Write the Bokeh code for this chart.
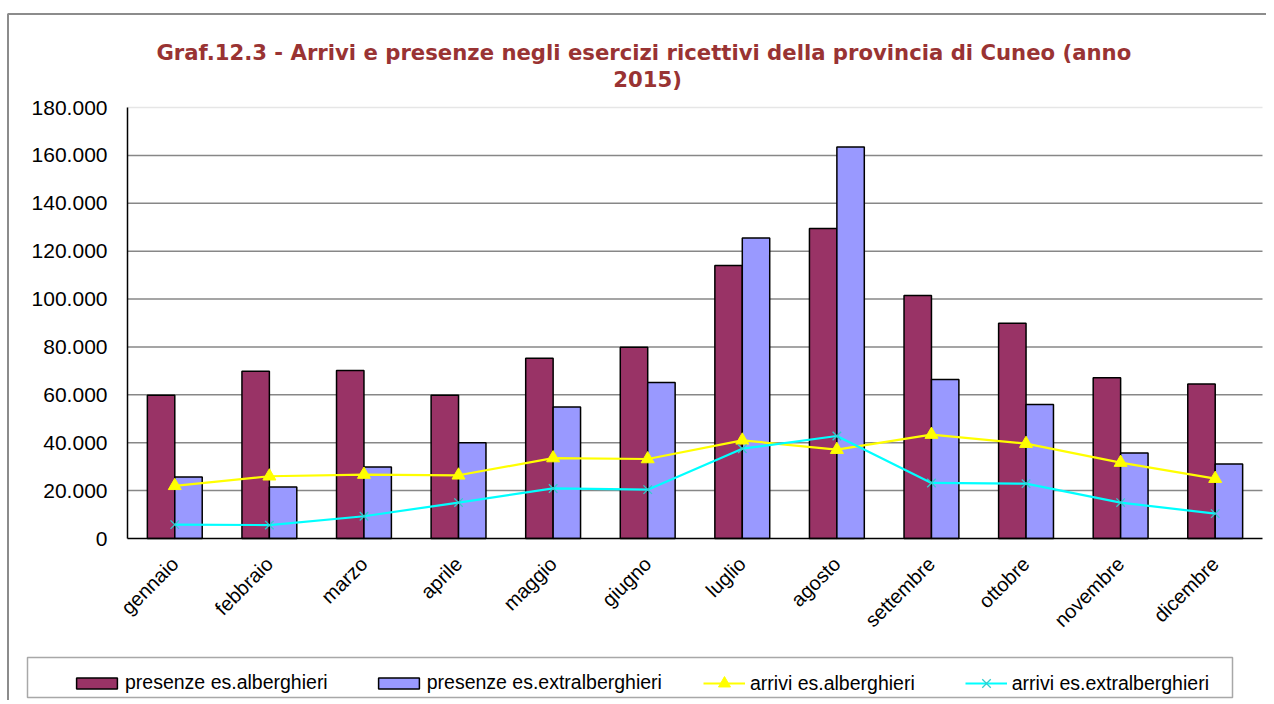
import math
from bokeh.plotting import figure
from bokeh.models import (FixedTicker, Legend, LegendItem, Range1d, ColumnDataSource,
                          Label)
from bokeh.transform import dodge
from bokeh.embed import file_html
from bokeh.resources import INLINE

months = ["gennaio", "febbraio", "marzo", "aprile", "maggio", "giugno",
          "luglio", "agosto", "settembre", "ottobre", "novembre", "dicembre"]
presenze_alberghieri = [59800, 69900, 70200, 59800, 75300, 79900,
                        114000, 129500, 101500, 89900, 67100, 64500]
presenze_extralberghieri = [25700, 21500, 29900, 40000, 54900, 65200,
                            125500, 163500, 66400, 56000, 35700, 31100]
arrivi_alberghieri = [22000, 26000, 26700, 26400, 33600, 33200,
                      41000, 37100, 43400, 39600, 31700, 25000]
arrivi_extralberghieri = [5800, 5600, 9300, 15000, 20900, 20400,
                          37500, 42800, 23200, 22900, 15000, 10400]
y_ticks = [0, 20000, 40000, 60000, 80000, 100000, 120000, 140000, 160000, 180000]
y_tick_labels = ["0", "20.000", "40.000", "60.000", "80.000", "100.000",
                 "120.000", "140.000", "160.000", "180.000"]
series_names = ["presenze es.alberghieri", "presenze es.extralberghieri",
                "arrivi es.alberghieri", "arrivi es.extralberghieri"]
title_line1 = "Graf.12.3  - Arrivi e presenze negli esercizi ricettivi della provincia di Cuneo (anno"
title_line2 = "2015)"

# ---- layout (pixels of the canvas) ----
W, H = 1266, 700
PX_LEFT, PX_RIGHT = 127, 1262      # plot area x extent
PX_TOP, PX_BOTTOM = 107, 538       # plot area y extent
N = len(months)
Y_MAX = y_ticks[-1]


def dx(px):
    return (px - PX_LEFT) * N / (PX_RIGHT - PX_LEFT)


def dy(py):
    return (PX_BOTTOM - py) * Y_MAX / (PX_BOTTOM - PX_TOP)


xs = [i + 0.5 for i in range(N)]
src = ColumnDataSource(dict(x=xs, m=months, pa=presenze_alberghieri,
                            pe=presenze_extralberghieri,
                            aa=arrivi_alberghieri, ae=arrivi_extralberghieri))

p = figure(width=W, height=H, x_range=Range1d(dx(0), dx(W)),
           y_range=Range1d(dy(H), dy(0)), output_backend="svg",
           toolbar_location=None, title=None,
           min_border=0, min_border_left=0, min_border_right=0,
           min_border_top=0, min_border_bottom=0)
p.outline_line_color = None
p.background_fill_color = "white"
p.border_fill_color = "white"
p.xgrid.visible = False
p.ygrid.visible = False

# outer chart border (left and top)
p.line([dx(7.5), dx(7.5), dx(W + 10)], [dy(H + 10), dy(13.5), dy(13.5)],
       line_color="#8c8c8c", line_width=2)

# titles
for txt, py in ((title_line1, 52), (title_line2, 79)):
    p.add_layout(Label(x=dx(647), y=dy(py), text=txt, text_align="center",
                       text_baseline="alphabetic", text_font="DejaVu Sans",
                       text_font_style="bold", text_font_size="21.2px",
                       text_color="#993333"))

# grid lines
grid_y = y_ticks[1:]
grid_colors = ["#878787"] * (len(grid_y) - 1) + ["#e6e6e6"]
p.segment(x0=[0] * len(grid_y), x1=[N] * len(grid_y), y0=grid_y, y1=grid_y,
          line_color=grid_colors, line_width=1.5)

# axes
p.yaxis.ticker = FixedTicker(ticks=y_ticks)
p.yaxis.major_label_overrides = {t: l for t, l in zip(y_ticks, y_tick_labels)}
p.yaxis.fixed_location = 0
p.yaxis.bounds = (0, Y_MAX)
p.xaxis.ticker = FixedTicker(ticks=xs)
p.xaxis.major_label_overrides = {x: m for x, m in zip(xs, months)}
p.xaxis.fixed_location = 0
p.xaxis.bounds = (0, N)
for ax in (p.xaxis, p.yaxis):
    ax.axis_line_color = "black"
    ax.axis_line_width = 1.5
    ax.major_tick_line_color = None
    ax.minor_tick_line_color = None
    ax.major_tick_out = 0
    ax.major_tick_in = 0
    ax.minor_tick_out = 0
    ax.major_label_text_font = "Liberation Sans"
    ax.major_label_text_color = "black"
p.yaxis.major_label_text_font_size = "21px"
p.yaxis.major_label_standoff = 20
p.xaxis.major_label_text_font_size = "20px"
p.xaxis.major_label_orientation = math.pi / 4
p.xaxis.major_label_standoff = 22

# data
r1 = p.vbar(x=dodge("x", -0.145), top="pa", width=0.29, source=src,
            fill_color="#993366", line_color="black", line_width=1.5)
r2 = p.vbar(x=dodge("x", 0.145), top="pe", width=0.29, source=src,
            fill_color="#9999FF", line_color="black", line_width=1.5)
r3 = p.line("x", "aa", source=src, line_color="#FFFF00", line_width=2.2)
r3m = p.scatter("x", "aa", source=src, marker="triangle", size=13,
                fill_color="#FFFF00", line_color="#FFFF00")
r4 = p.line("x", "ae", source=src, line_color="#00FFFF", line_width=2.2)
r4m = p.scatter("x", "ae", source=src, marker="x", size=12,
                line_color="#33CCCC", line_width=1.3)

# legend box
p.quad(left=dx(27), right=dx(1232), top=dy(657), bottom=dy(697),
       fill_color="white", line_color="#a8a8a8", line_width=1.5)

common = dict(orientation="horizontal", border_line_color=None,
              background_fill_alpha=0.0, label_text_font="Liberation Sans",
              label_text_font_size="19.5px", label_text_color="black",
              label_height=22, padding=5, margin=0)
legend_bars = Legend(items=[
    LegendItem(label=series_names[0], renderers=[r1]),
    LegendItem(label=series_names[1], renderers=[r2]),
], location=(71, 6), glyph_width=51, glyph_height=14, spacing=45,
    label_standoff=3, **common)
legend_lines = Legend(items=[
    LegendItem(label=series_names[2], renderers=[r3, r3m]),
    LegendItem(label=series_names[3], renderers=[r4, r4m]),
], location=(703, 2), glyph_width=42, glyph_height=30, spacing=50,
    label_standoff=5, **common)
p.add_layout(legend_bars, "center")
p.add_layout(legend_lines, "center")

open("out.html", "w").write(file_html(p, INLINE))
